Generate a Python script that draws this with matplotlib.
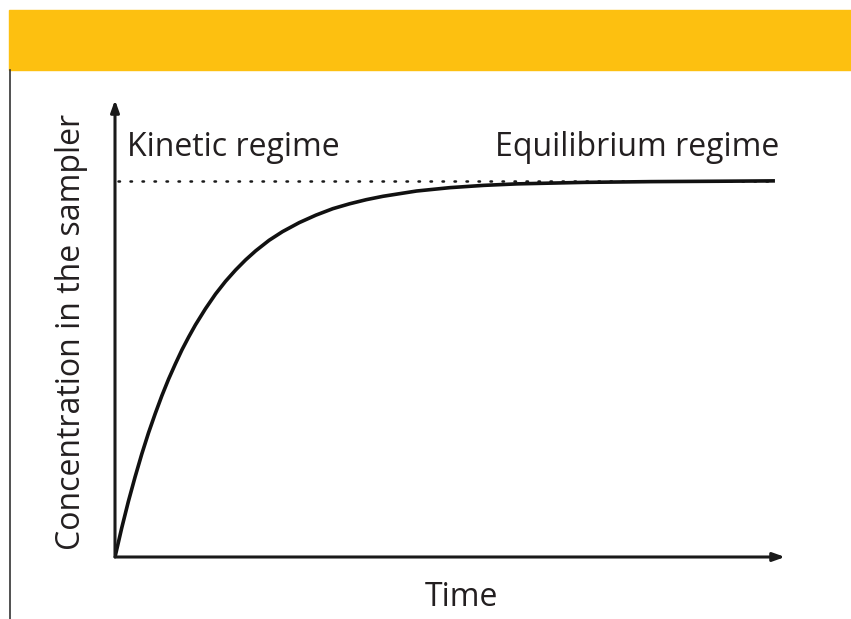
import matplotlib.pyplot as plt
from matplotlib.patches import Rectangle
from matplotlib.lines import Line2D

# ---------- Data ----------
time_pts = [0, 1, 2, 3, 4, 5, 6, 7, 8, 9, 10, 11, 12, 13.5, 15, 16.5, 18, 19.5, 21,
            23, 25, 27.5, 30, 32.5, 35, 37.5, 40, 45, 50, 55, 60, 70, 80, 90, 98.5]
conc_pts = [0, 7.7, 14.8, 21.3, 27.4, 33.0, 38.1, 42.9, 47.3, 51.3, 55.1, 58.5,
            61.7, 66.0, 69.9, 73.3, 76.3, 79.0, 81.4, 84.2, 86.5, 88.9, 90.9,
            92.6, 93.9, 95.0, 95.9, 97.3, 98.2, 98.8, 99.2, 99.6, 99.8, 99.9, 100]
equilibrium = 100
eq_span = [0.5, 98.5]

x_label = "Time"
y_label = "Concentration in the sampler"
left_text = "Kinetic regime"
right_text = "Equilibrium regime"

text_color = "#231f20"
banner_color = "#fdc010"
W, H = 851, 619

fig = plt.figure(figsize=(W / 100, H / 100), dpi=100)
fig.patch.set_facecolor("white")

# yellow banner + thin frame line on the left
fig.patches.append(Rectangle((9 / W, 1 - 70 / H), 1 - 9 / W, 60 / H,
                             transform=fig.transFigure, color=banner_color, zorder=0))
fig.lines.append(Line2D([10 / W, 10 / W], [0, 1 - 70 / H],
                        transform=fig.transFigure, color="#333333", lw=1.2))

# axes: origin at (115, 557) px, x arrow to 785, y arrow to 100
ax = fig.add_axes([115 / W, (H - 557) / H, 670 / W, 457 / H])
ax.set_xlim(0, 100)
ax.set_ylim(0, 121.5)
ax.axis("off")

arrow = dict(arrowstyle="-|>,head_length=0.7,head_width=0.25", lw=2.2,
             color="#1a1a1a", shrinkA=0, shrinkB=0)
ax.annotate("", xy=(1, 0), xytext=(0, 0), xycoords="axes fraction", arrowprops=arrow)
ax.annotate("", xy=(0, 1), xytext=(0, 0), xycoords="axes fraction", arrowprops=arrow)

ax.plot(eq_span, [equilibrium, equilibrium], color="#1a1a1a", lw=1.8,
        linestyle=(0, (0.6, 4.2)), dash_capstyle="round")
ax.plot(time_pts, conc_pts, color="#111111", lw=2.6, solid_capstyle="butt",
        solid_joinstyle="round")

font = "Open Sans"
fs = 23
fig.text(127 / W, 1 - 147 / H, left_text, fontsize=fs, family=font,
         color=text_color, va="center", ha="left")
fig.text(779 / W, 1 - 147 / H, right_text, fontsize=fs, family=font,
         color=text_color, va="center", ha="right")
fig.text(461 / W, 1 - 597 / H, x_label, fontsize=fs, family=font,
         color=text_color, va="center", ha="center")
fig.text(72 / W, 1 - 332 / H, y_label, fontsize=fs, family=font,
         color=text_color, va="center", ha="center", rotation=90)

fig.savefig("out.png", dpi=100)
